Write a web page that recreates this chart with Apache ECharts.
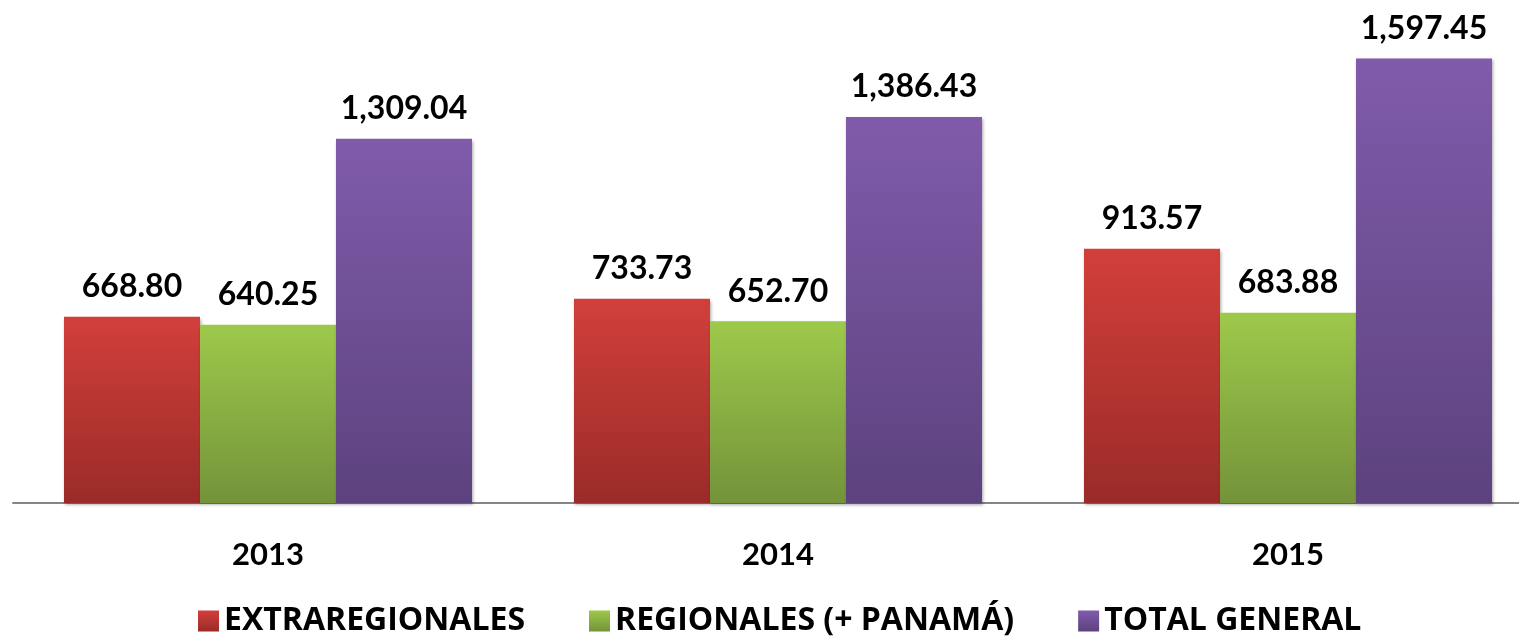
<!DOCTYPE html>
<html>
<head>
<meta charset="utf-8">
<script src="https://cdn.jsdelivr.net/npm/echarts@6/dist/echarts.min.js"></script>
<style>
  html, body { margin: 0; padding: 0; background: #fff; }
  #chart { width: 1519px; height: 638px; }
</style>
</head>
<body>
<div id="chart"></div>
<script>
// años
const years = ['2013', '2014', '2015'];
// valores por serie
const extraregionales = [668.80, 733.73, 913.57];
const regionales = [640.25, 652.70, 683.88];
const totalGeneral = [1309.04, 1386.43, 1597.45];

const chart = echarts.init(document.getElementById('chart'));

// degradado vertical de arriba hacia abajo
function grad(top, bottom) {
  return new echarts.graphic.LinearGradient(0, 0, 0, 1, [
    { offset: 0, color: top },
    { offset: 1, color: bottom }
  ]);
}

const fmt = v => v.value.toLocaleString('en-US', { minimumFractionDigits: 2, maximumFractionDigits: 2 });

const labelStyle = {
  show: true,
  position: 'top',
  distance: 14,
  formatter: fmt,
  color: '#000',
  fontFamily: 'Lato',
  fontWeight: 'bold',
  fontSize: 32
};

function makeSeries(name, data, top, bottom) {
  return {
    name: name,
    type: 'bar',
    data: data,
    barWidth: 136,
    barGap: '0%',
    itemStyle: {
      color: grad(top, bottom),
      shadowColor: 'rgba(0,0,0,0.35)',
      shadowBlur: 3,
      shadowOffsetX: 1,
      shadowOffsetY: 2
    },
    label: labelStyle
  };
}

const option = {
  animation: false,
  // el área de trazado se sale por la derecha, como en el original recortado
  grid: { left: 13, top: 2, right: -24, bottom: 135, outerBoundsMode: 'none' },
  legend: {
    top: 605,
    left: 198,
    padding: 0,
    icon: 'rect',
    itemWidth: 21,
    itemHeight: 21,
    itemGap: 64,
    textStyle: { fontFamily: 'Open Sans', fontWeight: 'bold', fontSize: 32, color: '#000' },
    data: ['EXTRAREGIONALES', 'REGIONALES (+ PANAMÁ)', 'TOTAL GENERAL']
  },
  xAxis: {
    type: 'category',
    data: years,
    axisLine: { lineStyle: { color: '#858585', width: 2 } },
    axisTick: { show: false },
    axisLabel: { margin: 36, color: '#000', fontFamily: 'Lato', fontWeight: 'bold', fontSize: 31 }
  },
  yAxis: {
    type: 'value',
    min: 0,
    max: 1800,
    show: false,
    splitLine: { show: false }
  },
  series: [
    makeSeries('EXTRAREGIONALES', extraregionales, '#D23F3B', '#9A2B28'),
    makeSeries('REGIONALES (+ PANAMÁ)', regionales, '#9DC94B', '#74933A'),
    makeSeries('TOTAL GENERAL', totalGeneral, '#805BAB', '#5C427E')
  ]
};

chart.setOption(option);
</script>
</body>
</html>
